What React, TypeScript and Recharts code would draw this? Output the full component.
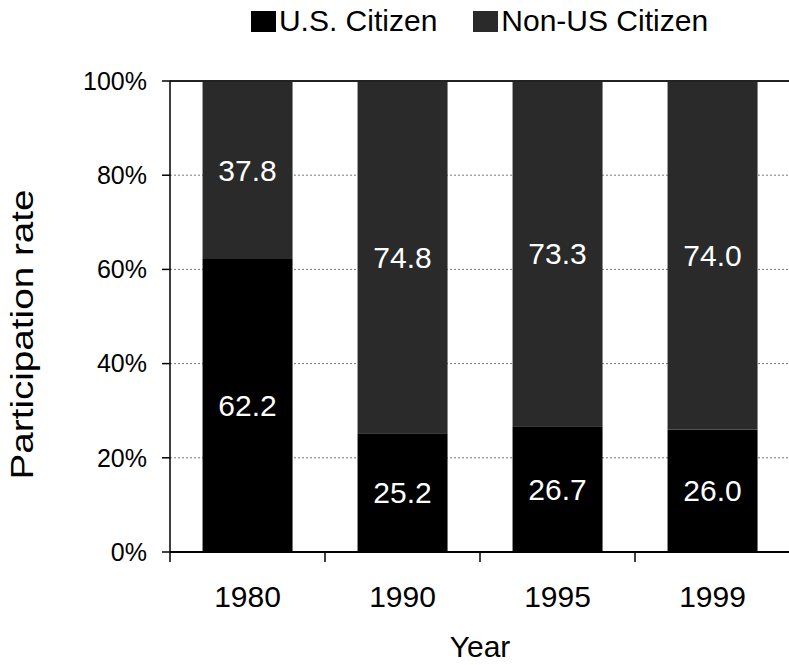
import React from "react";
import {
  BarChart, Bar, XAxis, YAxis, CartesianGrid, Legend, LabelList, ReferenceLine,
} from "recharts";

const years = ["1980", "1990", "1995", "1999"];
const usCitizen = [62.2, 25.2, 26.7, 26.0];
const nonUsCitizen = [37.8, 74.8, 73.3, 74.0];
const yTicks = [0, 20, 40, 60, 80, 100];

const US_COLOR = "#000000";
const NON_US_COLOR = "#2a2a2a";
const FONT = "Arial, 'Liberation Sans', sans-serif";
const X_TICK_MARGIN = 34;

const data = years.map((year, i) => ({
  year,
  us: usCitizen[i],
  nonUs: nonUsCitizen[i],
}));

const legendItems = [
  { label: "U.S. Citizen", color: US_COLOR },
  { label: "Non-US Citizen", color: NON_US_COLOR },
];

function ChartLegend() {
  return (
    <div style={{ display: "flex", justifyContent: "center", paddingLeft: 170, gap: 36, paddingTop: 4 }}>
      {legendItems.map(item => (
        <div key={item.label} style={{ display: "flex", alignItems: "center", gap: 3 }}>
          <span style={{ width: 25, height: 21, background: item.color, display: "inline-block" }} />
          <span style={{ fontSize: 30, color: "#000", lineHeight: "34px" }}>{item.label}</span>
        </div>
      ))}
    </div>
  );
}

function YTitle(props: any) {
  const vb = props.viewBox;
  const cx = vb.x + 22;
  const cy = vb.y + vb.height / 2 + 18;
  return (
    <text
      x={cx}
      y={cy}
      transform={`rotate(-90, ${cx}, ${cy})`}
      textAnchor="middle"
      dominantBaseline="central"
      fontSize={31}
      textLength={290}
      lengthAdjust="spacingAndGlyphs"
      fill="#000"
    >
      Participation rate
    </text>
  );
}

// year label plus tick marks at the category boundaries (Excel style)
function YearTick(props: any) {
  const { x, y, payload, index, visibleTicksCount } = props;
  const half = payload.offset || 0;
  const axisY = y - X_TICK_MARGIN;
  const last = index === visibleTicksCount - 1;
  return (
    <g>
      <line x1={x - half} x2={x - half} y1={axisY} y2={axisY + 10} stroke="#000" strokeWidth={1.5} />
      {last && <line x1={x + half} x2={x + half} y1={axisY} y2={axisY + 10} stroke="#000" strokeWidth={1.5} />}
      <text x={x} y={y} dy="0.71em" textAnchor="middle" fontSize={30} fill="#000">
        {payload.value}
      </text>
    </g>
  );
}

const fmt = (v: any) => Number(v).toFixed(1);

export default function App() {
  return (
    <div style={{ position: "absolute", left: 0, top: 0, width: 789, height: 665, background: "#fff", fontFamily: FONT }}>
      <BarChart
        width={789}
        height={665}
        data={data}
        margin={{ top: 41, right: -1, bottom: 0, left: 0 }}
        barCategoryGap="21%"
      >
        <Legend verticalAlign="top" content={<ChartLegend />} wrapperStyle={{ top: 0, left: 0, width: 789, height: 40 }} />
        <CartesianGrid horizontal vertical={false} stroke="#777" strokeDasharray="2 2" />
        <XAxis
          dataKey="year"
          height={113}
          tickSize={0}
          tickLine={false}
          tickMargin={X_TICK_MARGIN}
          axisLine={{ stroke: "#000", strokeWidth: 2 }}
          tick={<YearTick />}
          label={{ value: "Year", position: "insideBottom", offset: 8, fontSize: 30, fill: "#000" }}
        />
        <YAxis
          width={170}
          domain={[0, 100]}
          ticks={yTicks}
          tickFormatter={(v: number) => `${v}%`}
          tickSize={8}
          tickMargin={15}
          tick={{ fontSize: 25, fill: "#000" }}
          axisLine={{ stroke: "#000", strokeWidth: 1.5 }}
          tickLine={{ stroke: "#000", strokeWidth: 1.5 }}
          label={<YTitle />}
        />
        <ReferenceLine y={100} stroke="#222" strokeWidth={2} />
        <Bar dataKey="us" stackId="a" fill={US_COLOR} isAnimationActive={false}>
          <LabelList dataKey="us" position="center" fill="#fff" fontSize={30} formatter={fmt} />
        </Bar>
        <Bar dataKey="nonUs" stackId="a" fill={NON_US_COLOR} isAnimationActive={false}>
          <LabelList dataKey="nonUs" position="center" fill="#fff" fontSize={30} formatter={fmt} />
        </Bar>
      </BarChart>
    </div>
  );
}
